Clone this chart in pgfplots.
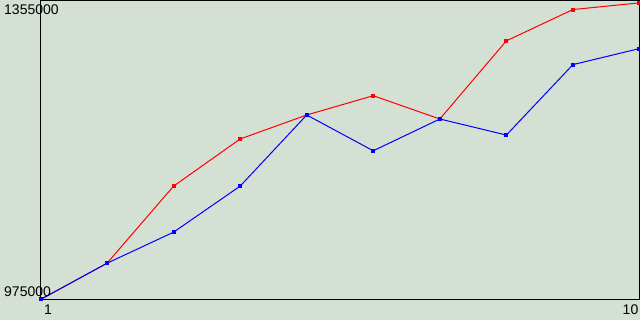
\documentclass[border=0pt]{standalone}
\usepackage{pgfplots}
\pgfplotsset{compat=1.18}
\usepackage{fontspec}
\setmainfont{Liberation Sans}
\definecolor{bgc}{RGB}{212,224,212}
\begin{document}
\begin{tikzpicture}[x=1pt,y=1pt]
\fill[bgc] (0,0) rectangle (640,320);
\begin{axis}[
  at={(40.5pt,20.5pt)}, anchor=south west,
  scale only axis, width=599pt, height=299pt,
  xmin=1, xmax=10, ymin=975000, ymax=1355000,
  axis line style={black, line width=1pt},
  major tick length=0pt,
  scaled y ticks=false,
  xtick={1,10}, ytick={975000,1355000},
  xticklabels={}, yticklabels={},
  axis background/.style={fill=bgc},
]
\addplot[red, line width=1pt, mark=square*, mark size=1.5pt, mark options={solid}] coordinates {
(1,975000) (2,1021100) (3,1119100) (4,1179000) (5,1209500)
(6,1234000) (7,1204400) (8,1303700) (9,1343500) (10,1352000)};
\addplot[blue, line width=1pt, mark=square*, mark size=1.5pt, mark options={solid}] coordinates {
(1,975000) (2,1021100) (3,1060600) (4,1119100) (5,1209500)
(6,1164000) (7,1204400) (8,1184000) (9,1273500) (10,1293900)};
\end{axis}
\begin{scope}[every node/.style={inner sep=0pt, font=\fontsize{14}{16}\selectfont}]
\node[anchor=north west] at (4,315) {1355000};
\node[anchor=south west] at (4,23) {975000};
\node[anchor=north west] at (44,15) {1};
\node[anchor=north east] at (638.5,15) {10};
\end{scope}
\pgfresetboundingbox
\useasboundingbox (0,0) rectangle (640,320);
\end{tikzpicture}
\end{document}
